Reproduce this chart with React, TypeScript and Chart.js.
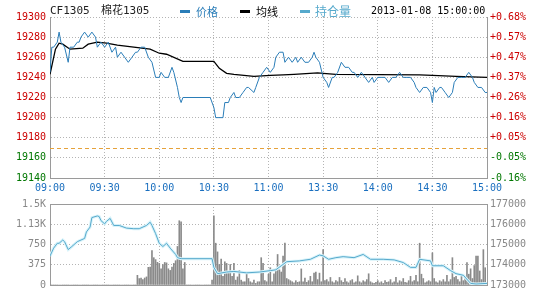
import React, { useEffect, useRef } from 'react';
import { Chart, registerables } from 'chart.js';

Chart.register(...registerables);

// ---------- text ----------
const SYMBOL = 'CF1305';
const NAME = '棉花1305';
const STAMP = '2013-01-08 15:00:00';
const LEGEND_PRICE = '价格';
const LEGEND_AVG = '均线';
const LEGEND_OI = '持仓量';
const TIME_LABELS = ['09:00', '09:30', '10:00', '10:30', '11:00', '13:30', '14:00', '14:30', '15:00'];

// ---------- reference values ----------
const PREV_SETTLE = 19170;
const PRICE_MIN = 19140;
const PRICE_MAX = 19300;
const PRICE_STEP = 20;
const VOL_MAX = 1500;
const VOL_STEP = 375;
const OI_MIN = 173000;
const OI_MAX = 177000;
const OI_STEP = 1000;
const MINUTES = 240;

// ---------- price (minute offset on the chart's time axis, value) ----------
const priceTimes = [0, 1, 2, 4, 5, 6, 8, 10, 11, 13, 15, 16, 17, 19, 21, 23, 25, 26, 28, 30, 32, 34, 36, 37, 39, 41, 43, 45, 47, 48, 50, 52, 54, 56, 58, 60, 61, 63, 65, 67, 68, 70, 71, 72, 73, 88, 90, 91, 95, 96, 98, 99, 101, 102, 104, 106, 108, 109, 112, 113, 115, 117, 119, 121, 123, 124, 126, 128, 129, 131, 133, 135, 136, 138, 140, 142, 144, 145, 146, 148, 150, 152, 153, 155, 156, 158, 160, 162, 164, 166, 167, 169, 171, 173, 175, 177, 178, 180, 182, 184, 186, 188, 190, 192, 194, 196, 198, 200, 201, 203, 205, 207, 209, 210, 211, 212, 214, 215, 217, 219, 221, 222, 224, 226, 228, 230, 232, 233, 235, 237, 239, 240];
const priceValues = [19245, 19270, 19270, 19275, 19285, 19275, 19270, 19255, 19270, 19270, 19275, 19275, 19280, 19285, 19280, 19285, 19280, 19270, 19275, 19270, 19275, 19265, 19270, 19260, 19265, 19260, 19255, 19260, 19265, 19265, 19270, 19270, 19260, 19255, 19240, 19240, 19245, 19240, 19240, 19250, 19245, 19230, 19220, 19215, 19220, 19220, 19210, 19200, 19200, 19215, 19215, 19220, 19225, 19220, 19220, 19225, 19230, 19230, 19225, 19230, 19240, 19245, 19250, 19245, 19250, 19260, 19265, 19265, 19255, 19260, 19255, 19260, 19255, 19260, 19255, 19255, 19260, 19265, 19260, 19255, 19240, 19235, 19230, 19240, 19240, 19245, 19255, 19250, 19250, 19245, 19245, 19240, 19245, 19240, 19235, 19240, 19235, 19240, 19240, 19240, 19235, 19240, 19240, 19245, 19240, 19240, 19240, 19235, 19230, 19225, 19230, 19230, 19225, 19215, 19230, 19225, 19230, 19230, 19225, 19220, 19225, 19235, 19240, 19240, 19240, 19245, 19240, 19235, 19230, 19230, 19225, 19225];

// ---------- average price line ----------
const avgTimes = [0, 3, 5, 7, 11, 18, 21, 26, 31, 37, 55, 60, 64, 73, 90, 93, 97, 101, 112, 121, 128, 134, 147, 150, 157, 203, 210, 223, 240];
const avgValues = [19243, 19268, 19274, 19273, 19268, 19269, 19273, 19275, 19274, 19272, 19268, 19264, 19263, 19256, 19256, 19249, 19244, 19243, 19241, 19242, 19242.5, 19243, 19244.5, 19244, 19243, 19242.5, 19242, 19241, 19240];

// ---------- open interest ----------
const oiTimes = [0, 2, 4, 5, 7, 8, 10, 12, 15, 17, 19, 20, 22, 23, 26, 27, 28, 30, 31, 33, 35, 38, 42, 46, 49, 53, 55, 56, 58, 60, 62, 64, 66, 69, 70, 72, 89, 90, 92, 97, 101, 108, 115, 121, 124, 127, 130, 137, 143, 148, 150, 153, 157, 161, 167, 172, 176, 183, 189, 194, 198, 201, 203, 209, 210, 216, 220, 223, 227, 231, 234, 240];
const oiValues = [174430, 174820, 175060, 175060, 175220, 175140, 174750, 174900, 175140, 175220, 175300, 175620, 175860, 176330, 176410, 176380, 176180, 176020, 176140, 176290, 175940, 175940, 175810, 175780, 175780, 175940, 176100, 175940, 175540, 175060, 174900, 175060, 174820, 174510, 174350, 174300, 174300, 173870, 173560, 173640, 173670, 173600, 173640, 173710, 173750, 173950, 174150, 174190, 174270, 174480, 174440, 174270, 174350, 174400, 174350, 174510, 174270, 174270, 174240, 174110, 173870, 173870, 174270, 174190, 173950, 173950, 173710, 173560, 173480, 173080, 173050, 173080];

// ---------- volume per minute (index = minute on the time axis) ----------
const volume = [
  0, 0, 0, 0, 0, 0, 0, 0, 0, 0, 0, 0, 0, 0, 0, 0, 0, 0, 0, 0, 0, 0, 0, 0,
  0, 0, 0, 0, 0, 0, 0, 0, 0, 0, 0, 0, 0, 0, 0, 0, 0, 0, 0, 0, 0, 0, 0, 0,
  179, 119, 130, 100, 130, 150, 327, 330, 637, 506, 470, 420, 400, 298, 380, 417, 410, 300, 270, 330, 400, 450, 714, 1190, 1170, 300, 417,
  0, 0, 0, 0, 0, 0, 0, 0, 0, 0, 0, 0, 0, 0,
  89, 1280, 774, 613, 380, 480, 160, 430, 400, 230,
  380, 160, 400, 90, 150, 270, 90, 60, 60, 200,
  120, 60, 40, 90, 30, 60, 60, 506, 400, 80,
  60, 200, 320, 60, 208, 300, 565, 280, 240, 536,
  774, 120, 100, 80, 60, 40, 80, 50, 60, 298,
  60, 130, 50, 80, 160, 60, 220, 240, 100, 220,
  60, 655, 80, 100, 60, 140, 60, 40, 80, 60,
  140, 80, 50, 120, 60, 40, 80, 100, 40, 60,
  170, 60, 40, 80, 60, 100, 208, 60, 40, 30,
  50, 80, 40, 60, 30, 80, 50, 60, 100, 40,
  60, 140, 40, 80, 60, 120, 50, 40, 80, 160,
  60, 80, 180, 60, 774, 200, 120, 40, 60, 80,
  60, 595, 120, 60, 40, 80, 60, 100, 60, 180,
  60, 100, 506, 140, 160, 100, 60, 180, 80, 120,
  417, 200, 300, 120, 360, 536, 536, 260, 100, 655,
  320, 0,
];

// ---------- styles ----------
const PRICE_COLOR = '#2a7db8';
const AVG_COLOR = '#000000';
const OI_COLOR = '#56a9cc';
const OI_HALO = '#d8f3fa';
const VOL_COLOR = '#8a8a8a';
const UP_COLOR = '#cc0000';
const DOWN_COLOR = '#007700';
const TIME_COLOR = '#1a6fbf';
const GRAY_TEXT = '#888888';
const GRID_COLOR = '#b4b4b4';
const FRAME_COLOR = '#9a9a9a';
const SETTLE_COLOR = '#e6a23a';
const MONO = '"DejaVu Sans Mono", monospace';
const FONT10 = { family: MONO, size: 10 };

const pts = (xs: number[], ys: number[]) => xs.map((x, i) => ({ x, y: ys[i] }));

const settlePlugin = {
  id: 'settleLine',
  beforeDatasetsDraw(chart: any) {
    const { ctx, chartArea, scales } = chart;
    const y = Math.round(scales.y.getPixelForValue(PREV_SETTLE)) + 0.5;
    ctx.save();
    ctx.strokeStyle = SETTLE_COLOR;
    ctx.lineWidth = 1;
    ctx.setLineDash([4, 3]);
    ctx.beginPath();
    ctx.moveTo(chartArea.left, y);
    ctx.lineTo(chartArea.right, y);
    ctx.stroke();
    ctx.restore();
  },
};

const topFramePlugin = {
  id: 'topFrame',
  afterDraw(chart: any) {
    const { ctx, chartArea } = chart;
    const y = Math.round(chartArea.top) + 0.5;
    ctx.save();
    ctx.strokeStyle = FRAME_COLOR;
    ctx.lineWidth = 1;
    ctx.beginPath();
    ctx.moveTo(chartArea.left, y);
    ctx.lineTo(chartArea.right, y);
    ctx.stroke();
    ctx.restore();
  },
};

const pctLabel = (v: number) => {
  const p = ((v - PREV_SETTLE) / PREV_SETTLE) * 100;
  return (p >= 0 ? '+' : '-') + Math.abs(p).toFixed(2) + '%';
};

const volLabel = (v: number) => (v >= 1000 ? parseFloat((v / 1000).toFixed(2)) + 'K' : String(v));

export default function App() {
  const mainRef = useRef<HTMLCanvasElement>(null);
  const volRef = useRef<HTMLCanvasElement>(null);

  useEffect(() => {
    const main = new Chart(mainRef.current as HTMLCanvasElement, {
      type: 'line',
      data: {
        datasets: [
          {
            label: LEGEND_PRICE,
            data: pts(priceTimes, priceValues),
            borderColor: PRICE_COLOR,
            borderWidth: 1,
            pointRadius: 0,
            tension: 0,
            order: 0,
          },
          {
            label: LEGEND_AVG,
            data: pts(avgTimes, avgValues),
            borderColor: AVG_COLOR,
            borderWidth: 1.3,
            pointRadius: 0,
            tension: 0,
            order: 1,
          },
        ],
      },
      options: {
        animation: false,
        responsive: false,
        maintainAspectRatio: false,
        events: [],
        layout: { padding: { top: 17, left: 0, right: 0, bottom: 0 } },
        plugins: { legend: { display: false }, tooltip: { enabled: false } },
        scales: {
          x: {
            type: 'linear',
            min: 0,
            max: MINUTES,
            ticks: {
              stepSize: 30,
              autoSkip: false,
              maxRotation: 0,
              padding: 4,
              color: TIME_COLOR,
              font: FONT10,
              callback: (_v: any, i: number) => TIME_LABELS[i],
            },
            grid: { color: GRID_COLOR, drawTicks: false },
            border: { display: true, color: FRAME_COLOR, dash: [1, 2] },
            afterFit: (a: any) => { a.height = 16; },
          },
          y: {
            position: 'left',
            min: PRICE_MIN,
            max: PRICE_MAX,
            ticks: {
              stepSize: PRICE_STEP,
              padding: 4,
              font: FONT10,
              color: (c: any) => (c.tick && c.tick.value >= PREV_SETTLE ? UP_COLOR : DOWN_COLOR),
              callback: (v: any) => String(v),
            },
            grid: { color: GRID_COLOR, drawTicks: false },
            border: { display: true, color: FRAME_COLOR, dash: [1, 2] },
            afterFit: (a: any) => { a.width = 50; },
          },
          y1: {
            position: 'right',
            min: PRICE_MIN,
            max: PRICE_MAX,
            ticks: {
              stepSize: PRICE_STEP,
              padding: 3,
              font: FONT10,
              color: (c: any) => (c.tick && c.tick.value >= PREV_SETTLE ? UP_COLOR : DOWN_COLOR),
              callback: (v: any) => pctLabel(Number(v)),
            },
            grid: { display: false, drawTicks: false },
            border: { display: true, color: FRAME_COLOR },
            afterFit: (a: any) => { a.width = 53; },
          },
        },
      } as any,
      plugins: [settlePlugin],
    });

    const vol = new Chart(volRef.current as HTMLCanvasElement, {
      type: 'bar',
      data: {
        datasets: [
          {
            type: 'line',
            label: LEGEND_OI,
            data: pts(oiTimes, oiValues),
            borderColor: OI_COLOR,
            borderWidth: 1,
            pointRadius: 0,
            tension: 0,
            yAxisID: 'y1',
            order: 0,
          },
          {
            type: 'line',
            label: 'halo',
            data: pts(oiTimes, oiValues),
            borderColor: OI_HALO,
            borderWidth: 3,
            pointRadius: 0,
            tension: 0,
            yAxisID: 'y1',
            order: 1,
          },
          {
            type: 'bar',
            label: 'volume',
            data: volume.map((v, i) => ({ x: i, y: v })),
            backgroundColor: VOL_COLOR,
            borderWidth: 0,
            barThickness: 1,
            yAxisID: 'y',
            order: 2,
          },
        ],
      } as any,
      options: {
        animation: false,
        responsive: false,
        maintainAspectRatio: false,
        events: [],
        layout: { padding: { top: 7, left: 0, right: 0, bottom: 15 } },
        plugins: { legend: { display: false }, tooltip: { enabled: false } },
        scales: {
          x: {
            type: 'linear',
            min: 0,
            max: MINUTES,
            offset: false,
            ticks: { stepSize: 30, display: false },
            grid: { color: GRID_COLOR, drawTicks: false, offset: false },
            border: { display: true, color: FRAME_COLOR, dash: [1, 2] },
            afterFit: (a: any) => { a.height = 0; },
          },
          y: {
            position: 'left',
            min: 0,
            max: VOL_MAX,
            ticks: {
              stepSize: VOL_STEP,
              padding: 4,
              font: FONT10,
              color: GRAY_TEXT,
              callback: (v: any) => volLabel(Number(v)),
            },
            grid: { color: GRID_COLOR, drawTicks: false },
            border: { display: true, color: FRAME_COLOR, dash: [1, 2] },
            afterFit: (a: any) => { a.width = 50; },
          },
          y1: {
            position: 'right',
            min: OI_MIN,
            max: OI_MAX,
            ticks: {
              stepSize: OI_STEP,
              padding: 3,
              font: FONT10,
              color: GRAY_TEXT,
              callback: (v: any) => String(v),
            },
            grid: { display: false, drawTicks: false },
            border: { display: true, color: FRAME_COLOR },
            afterFit: (a: any) => { a.width = 53; },
          },
        },
      } as any,
      plugins: [topFramePlugin],
    });

    return () => {
      main.destroy();
      vol.destroy();
    };
  }, []);

  const textBase: React.CSSProperties = {
    position: 'absolute',
    top: 4,
    height: 14,
    lineHeight: '14px',
    whiteSpace: 'nowrap',
    fontFamily: MONO + ', "Noto Sans CJK SC"',
  };
  const dash = (left: number, color: string): React.CSSProperties => ({
    position: 'absolute',
    left,
    top: 10,
    width: 10,
    height: 3,
    background: color,
  });
  const cjk = '"Noto Sans CJK SC", sans-serif';

  return (
    <div style={{ position: 'fixed', left: 0, top: 0, width: 540, height: 300, background: '#ffffff', overflow: 'hidden' }}>
      <canvas ref={mainRef} width={540} height={194} style={{ position: 'absolute', left: 0, top: 0, width: 540, height: 194 }} />
      <canvas ref={volRef} width={540} height={106} style={{ position: 'absolute', left: 0, top: 194, width: 540, height: 106 }} />
      <div style={{ ...textBase, left: 50, fontSize: 11, color: '#222' }}>{SYMBOL}</div>
      <div style={{ ...textBase, left: 101, fontSize: 11, color: '#222' }}>{NAME}</div>
      <div style={dash(180, PRICE_COLOR)} />
      <div style={{ ...textBase, left: 196, fontSize: 11, color: PRICE_COLOR, fontFamily: cjk }}>{LEGEND_PRICE}</div>
      <div style={dash(240, AVG_COLOR)} />
      <div style={{ ...textBase, left: 256, fontSize: 11, color: '#000', fontFamily: cjk }}>{LEGEND_AVG}</div>
      <div style={dash(300, OI_COLOR)} />
      <div style={{ ...textBase, left: 315, fontSize: 12, color: OI_COLOR, fontFamily: cjk }}>{LEGEND_OI}</div>
      <div style={{ ...textBase, left: 371, fontSize: 10, color: '#000' }}>{STAMP}</div>
    </div>
  );
}
